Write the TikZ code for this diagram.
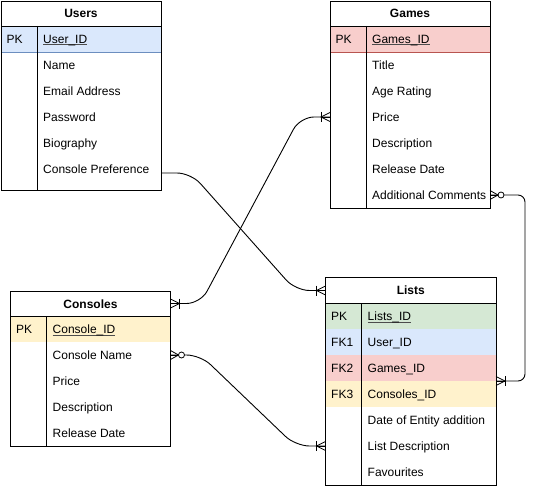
\documentclass[tikz,border=0pt]{standalone}
\usepackage{fontspec}
\setmainfont{Liberation Sans}
\usetikzlibrary{calc}
\definecolor{bluef}{HTML}{DAE8FC}
\definecolor{blues}{HTML}{6C8EBF}
\definecolor{redf}{HTML}{F8CECC}
\definecolor{reds}{HTML}{B85450}
\definecolor{yelf}{HTML}{FFF2CC}
\definecolor{yels}{HTML}{D6B656}
\definecolor{grnf}{HTML}{D5E8D4}
\definecolor{grns}{HTML}{82B366}
\tikzset{
  rowbg/.style={anchor=north west, minimum height=26pt, inner sep=0pt, outer sep=0pt, draw=none},
  txt/.style={anchor=west, inner sep=0pt, text height=9pt, text depth=0pt},
  titlerow/.style={anchor=north west, minimum height=25pt, inner sep=0pt, outer sep=0pt,
     font=\fontsize{12}{14}\selectfont\bfseries, text height=9pt, text depth=0pt},
  frame/.style={anchor=north west, draw, line width=0.9pt, inner sep=0pt, outer sep=0pt},
  sep/.style={line width=0.9pt},
  conn/.style={line width=0.9pt, rounded corners=14pt},
  pics/crowbar/.style={code={
     \draw[line width=0.8pt] (0,-4.5) -- (9,0) -- (0,4.5);
     \draw[line width=0.8pt] (0,0) -- (9,0);
     \draw[line width=0.8pt] (9,-5) -- (9,5);}},
  pics/crowzero/.style={code={
     \draw[line width=0.8pt] (0,-4.5) -- (8,0) -- (0,4.5);
     \draw[line width=0.8pt] (0,0) -- (8,0);
     \draw[line width=0.8pt, fill=white] (11,0) circle (3);}},
}
\newcommand{\pkul}[1]{\setbox0\hbox{#1}\rlap{\color{black!70}\rule[-1.6pt]{\wd0}{0.6pt}}\box0}
\newcommand{\tabrow}[7]{%
  \node[rowbg, fill=#5, minimum width=#4] (#1) at (#2,#3) {};
  \node[txt] (#1-k) at ($(#1.west)+(5.5,0)$) {#6};
  \node[txt] (#1-f) at ($(#1.west)+(42,0)$) {#7};
}
\begin{document}
\begin{tikzpicture}[x=1pt, y=-1pt, font=\fontsize{12}{14}\selectfont]
\useasboundingbox (0,0) rectangle (535,489);

% ---------------- Users ----------------
\node[titlerow, minimum width=160pt] (ut) at (1,1) {Users};
\tabrow{u0}{1}{26}{160pt}{bluef}{PK}{\pkul{User\_ID}}
\tabrow{u1}{1}{52}{160pt}{white}{}{Name}
\tabrow{u2}{1}{78}{160pt}{white}{}{Email Address}
\tabrow{u3}{1}{104}{160pt}{white}{}{Password}
\tabrow{u4}{1}{130}{160pt}{white}{}{Biography}
\tabrow{u5}{1}{156}{160pt}{white}{}{Console Preference}
\draw[sep] (1,26) -- (161,26);
\draw[sep, blues] (1,52) -- (161,52);
\draw[sep] (37,26) -- (37,190);
\node[frame, minimum width=160pt, minimum height=189pt] (users) at (1,1) {};

% ---------------- Games ----------------
\node[titlerow, minimum width=160pt] (gt) at (330,1) {Games};
\tabrow{g0}{330}{26}{160pt}{redf}{PK}{\pkul{Games\_ID}}
\tabrow{g1}{330}{52}{160pt}{white}{}{Title}
\tabrow{g2}{330}{78}{160pt}{white}{}{Age Rating}
\tabrow{g3}{330}{104}{160pt}{white}{}{Price}
\tabrow{g4}{330}{130}{160pt}{white}{}{Description}
\tabrow{g5}{330}{156}{160pt}{white}{}{Release Date}
\tabrow{g6}{330}{182}{160pt}{white}{}{Additional Comments}
\draw[sep] (330,26) -- (490,26);
\draw[sep, reds] (330,52) -- (490,52);
\draw[sep] (366.5,26) -- (366.5,208);
\node[frame, minimum width=160pt, minimum height=207pt] (games) at (330,1) {};

% ---------------- Consoles ----------------
\node[titlerow, minimum width=160pt] (ct) at (10.5,291) {Consoles};
\tabrow{c0}{10.5}{316}{160pt}{yelf}{PK}{\pkul{Console\_ID}}
\tabrow{c1}{10.5}{342}{160pt}{white}{}{Console Name}
\tabrow{c2}{10.5}{368}{160pt}{white}{}{Price}
\tabrow{c3}{10.5}{394}{160pt}{white}{}{Description}
\tabrow{c4}{10.5}{420}{160pt}{white}{}{Release Date}
\draw[sep] (10.5,316) -- (170.5,316);
\draw[sep] (46,316) -- (46,446);
\node[frame, minimum width=160pt, minimum height=155pt] (consoles) at (10.5,291) {};

% ---------------- Lists ----------------
\node[titlerow, minimum width=170.5pt] (lt) at (325.5,277) {Lists};
\tabrow{l0}{325.5}{303}{170.5pt}{grnf}{PK}{\pkul{Lists\_ID}}
\tabrow{l1}{325.5}{329}{170.5pt}{bluef}{FK1}{User\_ID}
\tabrow{l2}{325.5}{355}{170.5pt}{redf}{FK2}{Games\_ID}
\tabrow{l3}{325.5}{381}{170.5pt}{yelf}{FK3}{Consoles\_ID}
\tabrow{l4}{325.5}{407}{170.5pt}{white}{}{Date of Entity addition}
\tabrow{l5}{325.5}{433}{170.5pt}{white}{}{List Description}
\tabrow{l6}{325.5}{459}{170.5pt}{white}{}{Favourites}
\draw[sep] (325.5,303) -- (496,303);
\draw[sep] (361.5,303) -- (361.5,485);
\node[frame, minimum width=170.5pt, minimum height=208pt] (lists) at (325.5,277) {};

% ---------------- Connectors ----------------
\coordinate (ucp) at ($(u5.east)+(0,4)$);
\draw[conn] (ucp) -- ++(30,0) -- ($(lt.west)+(-30,1)$) -- ($(lt.west)+(0,1)$);
\draw[conn] (ct.east) -- ++(30,0) -- ($(g3.west)+(-30,0)$) -- (g3.west);
\draw[conn] (c1.east) -- ++(30,0) -- ($(l5.west)+(-30,0)$) -- (l5.west);
\draw[line width=0.9pt, rounded corners=7pt] (g6.east) -- ++(35,0) |- (l2.south east);

\pic[xscale=-1] at ($(lt.west)+(0,1)$) {crowbar};
\pic at (ct.east) {crowbar};
\pic[xscale=-1] at (g3.west) {crowbar};
\pic at (c1.east) {crowzero};
\pic[xscale=-1] at (l5.west) {crowbar};
\pic at (g6.east) {crowzero};
\pic at (l2.south east) {crowbar};
\end{tikzpicture}
\end{document}
